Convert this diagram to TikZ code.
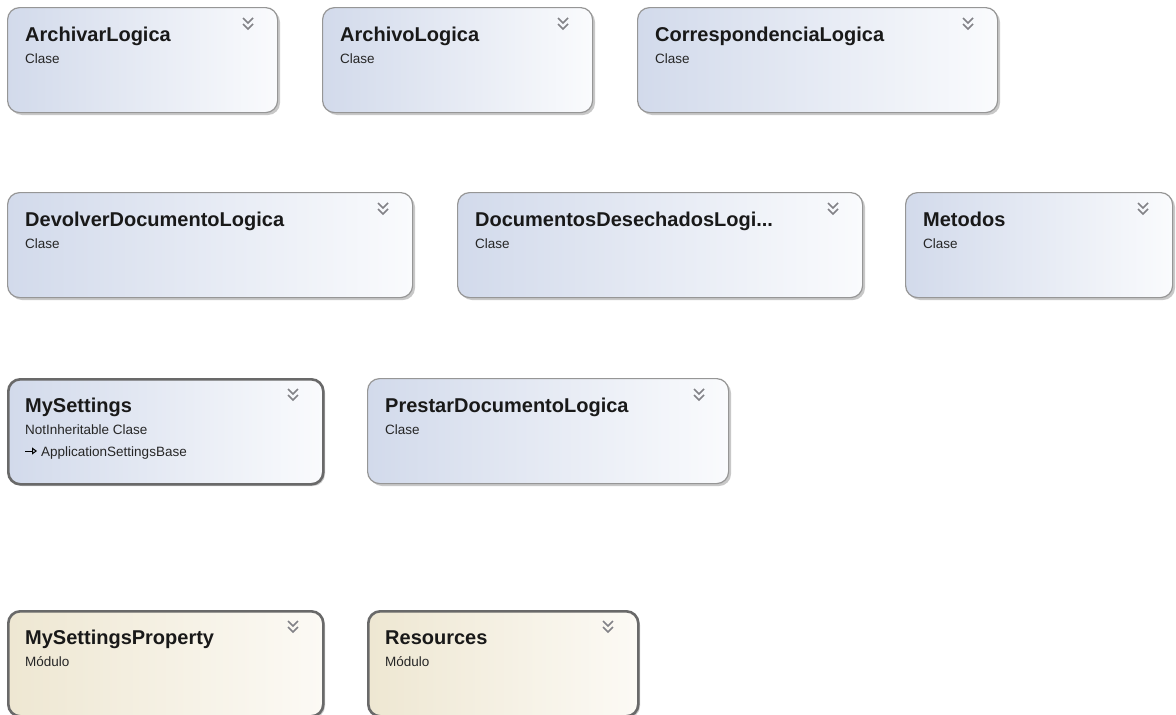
\documentclass[tikz,border=0pt]{standalone}
\usepackage{fontspec}
\setmainfont{Liberation Sans}
\usetikzlibrary{arrows.meta}
\definecolor{clsL}{RGB}{210,218,235}
\definecolor{clsR}{RGB}{250,251,253}
\definecolor{modL}{RGB}{238,231,210}
\definecolor{modR}{RGB}{252,250,245}
\definecolor{bord}{RGB}{150,150,150}
\definecolor{bordK}{RGB}{105,105,105}
\definecolor{chev}{RGB}{130,130,135}
\definecolor{shad}{RGB}{200,200,200}
\tikzset{
 box/.style={draw=bord, line width=1.2pt, rounded corners=12pt, anchor=north west,
   minimum height=105pt, inner sep=0pt, left color=clsL, right color=clsR},
 heavy/.style={draw=bordK, line width=2.6pt},
 modbox/.style={box, heavy, left color=modL, right color=modR},
 ttl/.style={anchor=base west, font=\bfseries\fontsize{20}{24}\selectfont, inner sep=0pt, text=black!90},
 sub/.style={anchor=base west, font=\fontsize{13.5}{16}\selectfont, inner sep=0pt, text=black!85},
 chevron/.style={draw=chev, line width=1.6pt},
 boxshadow/.style={fill=shad, rounded corners=12pt, draw=none}
}
\newcommand\umlbox[7]{%
 \fill[boxshadow] (#2+3,#3+3) rectangle ++(#4,105);
 \node[#5, minimum width=#4pt] (#1) at (#2,#3) {};
 \node[ttl] (#1-t) at (#2+18,#3+34) {#6};
 \node[sub] (#1-s) at (#2+18,#3+56) {#7};
 \draw[chevron] (#2+#4-34,#3+11) -- ++(5,5) -- ++(5,-5);
 \draw[chevron] (#2+#4-34,#3+17) -- ++(5,5) -- ++(5,-5);
}
\begin{document}
\begin{tikzpicture}[x=1pt,y=-1pt]
\useasboundingbox (0,0) rectangle (1176,715);
\fill[white] (0,0) rectangle (1176,715);
\clip (0,0) rectangle (1176,715);
\umlbox{archivar}{7}{7}{270}{box}{ArchivarLogica}{Clase}
\umlbox{archivo}{322}{7}{270}{box}{ArchivoLogica}{Clase}
\umlbox{corresp}{637}{7}{360}{box}{CorrespondenciaLogica}{Clase}
\umlbox{devolver}{7}{192}{405}{box}{DevolverDocumentoLogica}{Clase}
\umlbox{desech}{457}{192}{405}{box}{DocumentosDesechadosLogi...}{Clase}
\umlbox{metodos}{905}{192}{267}{box}{Metodos}{Clase}
\umlbox{mysettings}{7}{378}{315}{box,heavy}{MySettings}{NotInheritable Clase}
\umlbox{prestar}{367}{378}{361}{box}{PrestarDocumentoLogica}{Clase}
\umlbox{mysetprop}{7}{610}{315}{modbox}{MySettingsProperty}{Módulo}
\umlbox{resources}{367}{610}{270}{modbox}{Resources}{Módulo}
\coordinate (arrA) at (25,451);
\coordinate (arrB) at (37,451);
\draw[line width=1pt, -{Triangle[open,length=5pt,width=7pt]}] (arrA) -- (arrB);
\node[sub] (mysettings-b) at (41,456) {ApplicationSettingsBase};
\end{tikzpicture}
\end{document}
